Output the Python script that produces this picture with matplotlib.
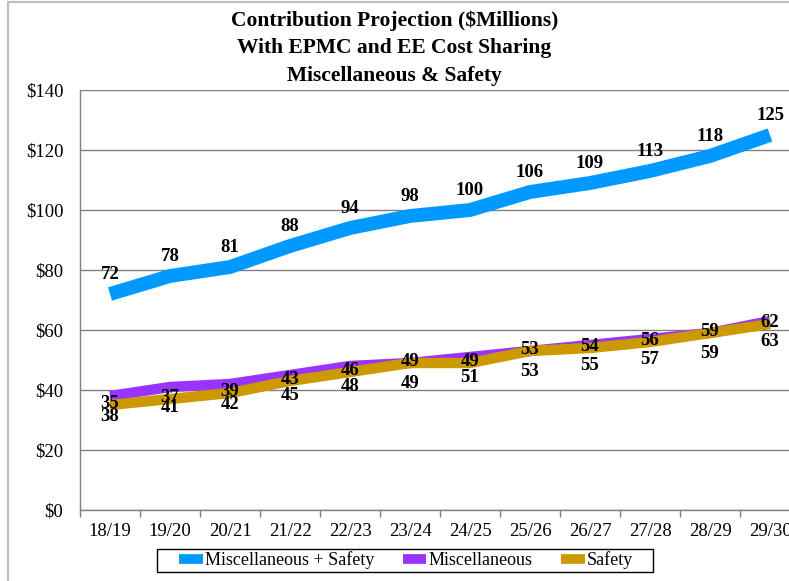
import numpy as np
import matplotlib
matplotlib.use("Agg")
import matplotlib.pyplot as plt
from matplotlib.patches import Rectangle

years = ['18/19', '19/20', '20/21', '21/22', '22/23', '23/24',
         '24/25', '25/26', '26/27', '27/28', '28/29', '29/30']
total = [72, 78, 81, 88, 94, 98, 100, 106, 109, 113, 118, 125]
misc = [38, 41, 42, 45, 48, 49, 51, 53, 55, 57, 59, 63]
safety = [35, 37, 39, 43, 46, 49, 49, 53, 54, 56, 59, 62]

title_lines = ['Contribution Projection ($Millions)',
               'With EPMC and EE Cost Sharing',
               'Miscellaneous & Safety']

plt.rcParams['font.family'] = ['Liberation Serif', 'DejaVu Serif']

W, H = 789, 581
fig = plt.figure(figsize=(W / 100, H / 100), dpi=100)

# outer chart border (right/bottom fall off the image)
fig.patches.append(Rectangle((8 / W, -0.2), 1.5, 0.2 + (H - 1.5) / H,
                             transform=fig.transFigure, fill=False,
                             edgecolor='#C0C0C0', linewidth=1.6))

ax = fig.add_axes([80 / W, 71 / H, 720 / W, 420 / H])
x = np.arange(len(years))

ax.plot(x, total, color='#0099FF', lw=10, solid_joinstyle='miter',
        solid_capstyle='butt', label='Miscellaneous + Safety', zorder=3)
ax.plot(x, misc, color='#9933FF', lw=7.5, solid_capstyle='butt',
        label='Miscellaneous', zorder=3)
ax.plot(x, safety, color='#CC9900', lw=7.5, solid_capstyle='butt',
        label='Safety', zorder=4)

lab = dict(ha='center', va='center', fontsize=13.5, fontweight='bold', zorder=5)
for i in x:
    ax.annotate(str(total[i]), (i, total[i]), xytext=(0, 14),
                textcoords='offset points', **lab)
    ax.annotate(str(safety[i]), (i, safety[i]), xytext=(0, 1),
                textcoords='offset points', **lab)
    ax.annotate(str(misc[i]), (i, misc[i]), xytext=(0, -15),
                textcoords='offset points', **lab)

ax.set_xlim(-0.5, len(years) - 0.5)
ax.set_ylim(0, 140)
ax.set_yticks(range(0, 141, 20))
ax.set_yticklabels([f'${v}' for v in range(0, 141, 20)], fontsize=13.5)
ax.set_xticks(x)
ax.set_xticklabels(years, fontsize=13.5)
ax.set_xticks(np.arange(-0.5, len(years)), minor=True)
ax.tick_params(axis='x', which='major', length=0, pad=9)
ax.tick_params(axis='x', which='minor', length=5, color='#808080', width=1)
ax.tick_params(axis='y', length=0, pad=12)

ax.yaxis.grid(True, color='#808080', lw=1)
ax.set_axisbelow(True)
for s in ['top', 'right']:
    ax.spines[s].set_visible(False)
for s in ['left', 'bottom']:
    ax.spines[s].set_color('#808080')
    ax.spines[s].set_linewidth(1)

for k, line in enumerate(title_lines):
    fig.text(0.5, 1 - (21 + 27.5 * k) / H, line, ha='center', va='center',
             fontsize=15.5, fontweight='bold')

# legend box drawn by hand so it can be wider than the entries need
fig.patches.append(Rectangle((157 / W, (H - 572) / H), 496 / W, 23 / H,
                             transform=fig.transFigure, fill=False,
                             edgecolor='black', linewidth=1))
leg = fig.legend(loc='center', bbox_to_anchor=(406 / W, 21 / H), ncol=3,
                 fontsize=13, frameon=False,
                 handlelength=1.3, handletextpad=0.1, columnspacing=1.6,
                 borderpad=0.15)
for h in leg.get_lines():
    h.set_linewidth(7)

fig.savefig('out.png', dpi=100)
